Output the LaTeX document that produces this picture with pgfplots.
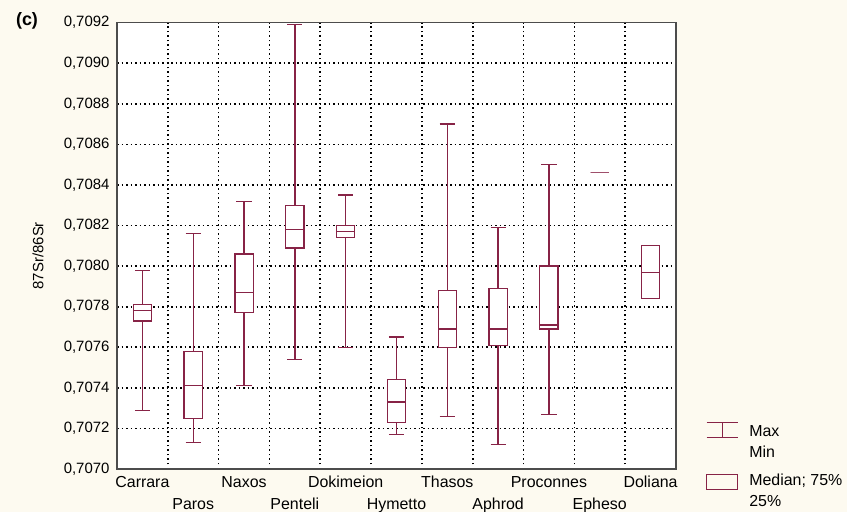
\documentclass[border=0pt]{standalone}
\usepackage{pgfplots}
\pgfplotsset{compat=1.18}
\usepgfplotslibrary{statistics}
\usepackage{fontspec}
\setmainfont{Liberation Sans}
\definecolor{maroon}{RGB}{135,35,70}
\definecolor{cream}{RGB}{253,250,240}
% y values are (87Sr/86Sr - 0.7070) x 10^4
\begin{document}
\begin{tikzpicture}
\fill[cream] (0,0) rectangle (847bp,512bp);
\useasboundingbox (0,0) rectangle (847bp,512bp);
\node[font=\fontsize{18}{20}\selectfont\bfseries] at (27bp,491bp) {(c)};
\begin{axis}[
  at={(117bp,43bp)}, anchor=south west,
  width=559bp, height=446.3bp, scale only axis,
  axis background/.style={fill=white},
  axis line style={draw=black!70, line width=1.2bp},
  xmin=0.5, xmax=11.5, ymin=0, ymax=22,
  xtick={1,2,3,4,5,6,7,8,9,10,11},
  minor xtick={1.5,2.5,3.5,4.5,5.5,6.5,7.5,8.5,9.5,10.5},
  ytick={0,2,4,6,8,10,12,14,16,18,20,22},
  yticklabels={{0,7070},{0,7072},{0,7074},{0,7076},{0,7078},{0,7080},{0,7082},{0,7084},{0,7086},{0,7088},{0,7090},{0,7092}},
  major tick length=0pt, minor tick length=0pt,
  ymajorgrids, xminorgrids,
  major grid style={black, line width=1.6bp, dash pattern=on 1.5bp off 3bp},
  minor grid style={black, line width=1.6bp, dash pattern=on 1.5bp off 3bp},
  yticklabel style={font=\fontsize{15}{17}\selectfont, xshift=-4bp},
  xticklabels={{\strut Carrara\\\strut},{\strut\\Paros},{\strut Naxos\\\strut},{\strut\\Penteli},{\strut Dokimeion\\\strut},{\strut\\Hymetto},{\strut Thasos\\\strut},{\strut\\Aphrod},{\strut Proconnes\\\strut},{\strut\\Epheso},{\strut Doliana\\\strut}},
  xticklabel style={align=center, font=\fontsize{16}{22}\selectfont},
  ylabel={87Sr/86Sr},
  every axis y label/.style={at={(rel axis cs:0,0.478)}, xshift=-79bp, rotate=90, anchor=center, font=\fontsize{15}{17}\selectfont},
  boxplot/draw direction=y,
  boxplot/every box/.style={draw=maroon, fill=white},
  legend style={draw=none, fill=none, inner sep=0pt, outer sep=0pt, at={(rel axis cs:1.0537,0.105)}, anchor=north west, row sep=11bp, column sep=9bp, font=\fontsize{16}{21}\selectfont, cells={anchor=base west, align=left, inner sep=0pt}},
]
\addlegendimage{legend image code/.code={\draw[maroon, line width=1.3bp] (0bp,20bp) -- (31bp,20bp) (15.5bp,20bp) -- (15.5bp,35bp) (0bp,35bp) -- (31bp,35bp);}}
\addlegendentry{Max\\Min}
\addlegendimage{legend image code/.code={\draw[maroon, line width=1.3bp] (0bp,17bp) rectangle (31bp,32bp);}}
\addlegendentry{Median; 75\%\\25\%}
% Carrara
\addplot[maroon, line width=1.3bp, forget plot, boxplot prepared={draw position=1, lower whisker=2.9, lower quartile=7.3, median=7.8, upper quartile=8.1, upper whisker=9.8, box extend=0.36, whisker extend=0.3}] coordinates {};
% Paros
\addplot[maroon, line width=1.3bp, forget plot, boxplot prepared={draw position=2, lower whisker=1.3, lower quartile=2.5, median=4.1, upper quartile=5.8, upper whisker=11.6, box extend=0.36, whisker extend=0.3}] coordinates {};
% Naxos
\addplot[maroon, line width=1.3bp, forget plot, boxplot prepared={draw position=3, lower whisker=4.1, lower quartile=7.7, median=8.7, upper quartile=10.6, upper whisker=13.2, box extend=0.36, whisker extend=0.3}] coordinates {};
% Penteli
\addplot[maroon, line width=1.3bp, forget plot, boxplot prepared={draw position=4, lower whisker=5.4, lower quartile=10.9, median=11.8, upper quartile=13.0, upper whisker=21.9, box extend=0.36, whisker extend=0.3}] coordinates {};
% Dokimeion
\addplot[maroon, line width=1.3bp, forget plot, boxplot prepared={draw position=5, lower whisker=6.0, lower quartile=11.4, median=11.7, upper quartile=12.0, upper whisker=13.5, box extend=0.36, whisker extend=0.3}] coordinates {};
% Hymetto
\addplot[maroon, line width=1.3bp, forget plot, boxplot prepared={draw position=6, lower whisker=1.7, lower quartile=2.3, median=3.3, upper quartile=4.4, upper whisker=6.5, box extend=0.36, whisker extend=0.3}] coordinates {};
% Thasos
\addplot[maroon, line width=1.3bp, forget plot, boxplot prepared={draw position=7, lower whisker=2.6, lower quartile=6.0, median=6.9, upper quartile=8.8, upper whisker=17.0, box extend=0.36, whisker extend=0.3}] coordinates {};
% Aphrod
\addplot[maroon, line width=1.3bp, forget plot, boxplot prepared={draw position=8, lower whisker=1.2, lower quartile=6.1, median=6.9, upper quartile=8.9, upper whisker=11.9, box extend=0.36, whisker extend=0.3}] coordinates {};
% Proconnes
\addplot[maroon, line width=1.3bp, forget plot, boxplot prepared={draw position=9, lower whisker=2.7, lower quartile=6.9, median=7.1, upper quartile=10.0, upper whisker=15.0, box extend=0.36, whisker extend=0.3}] coordinates {};
% Epheso
\addplot[maroon!80, line width=1.3bp, forget plot, boxplot prepared={draw position=10, lower whisker=14.6, lower quartile=14.6, median=14.6, upper quartile=14.6, upper whisker=14.6, box extend=0.36, whisker extend=0.3}] coordinates {};
% Doliana
\addplot[maroon, line width=1.3bp, forget plot, boxplot prepared={draw position=11, lower whisker=8.4, lower quartile=8.4, median=9.7, upper quartile=11.0, upper whisker=11.0, box extend=0.36, whisker extend=0.3}] coordinates {};
\end{axis}
\end{tikzpicture}
\end{document}
